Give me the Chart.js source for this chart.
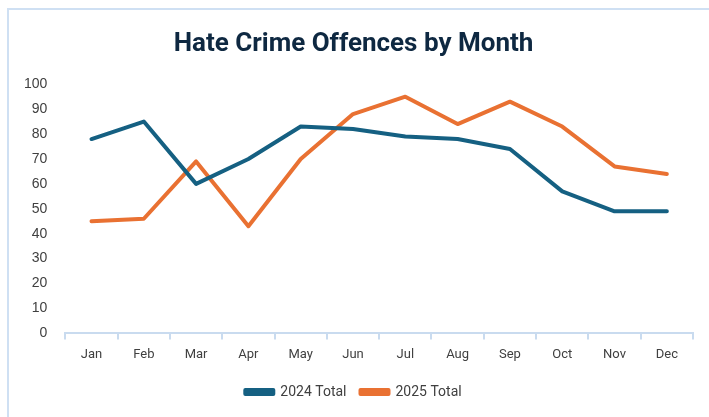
<!DOCTYPE html>
<html>
<head>
<meta charset="utf-8">
<script src="https://cdn.jsdelivr.net/npm/chart.js@4"></script>
<style>
  html, body { margin: 0; padding: 0; background: #fff; }
  #frame { position: absolute; left: 7px; top: 8px; width: 720px; height: 430px;
           border-left: 2px solid #cfe0f3; border-top: 2px solid #cfe0f3; box-sizing: border-box; }
  #wrap { position: absolute; left: 0; top: 0; width: 709px; height: 417px; }
</style>
</head>
<body>
<div id="frame"></div>
<div id="wrap"><canvas id="lineChart" width="709" height="417"></canvas></div>
<script>
const months = ['Jan', 'Feb', 'Mar', 'Apr', 'May', 'Jun', 'Jul', 'Aug', 'Sep', 'Oct', 'Nov', 'Dec']
const total2024 = [78, 85, 60, 70, 83, 82, 79, 78, 74, 57, 49, 49]
const total2025 = [45, 46, 69, 43, 70, 88, 95, 84, 93, 83, 67, 64]
const yTicks = [0, 10, 20, 30, 40, 50, 60, 70, 80, 90, 100]

const blue = '#156082'
const orange = '#E97132'
const axisColor = '#c9dbef'
const narrow = 'Roboto, "Liberation Sans", sans-serif'

const lineChart = new Chart(document.getElementById('lineChart'), {
  type: 'line',
  data: {
    labels: months,
    datasets: [
      { label: '2024 Total', data: total2024, borderColor: blue, backgroundColor: blue,
        borderWidth: 4, pointRadius: 0, tension: 0, borderJoinStyle: 'round', borderCapStyle: 'round' },
      { label: '2025 Total', data: total2025, borderColor: orange, backgroundColor: orange,
        borderWidth: 4, pointRadius: 0, tension: 0, borderJoinStyle: 'round', borderCapStyle: 'round' }
    ]
  },
  options: {
    responsive: false,
    animation: false,
    layout: { padding: { left: 14, right: 16, top: 8, bottom: 8 } },
    plugins: {
      title: {
        display: true,
        text: 'Hate Crime Offences by Month',
        color: '#0E2841',
        font: { family: narrow, size: 26, weight: 'bold' },
        padding: { top: 21, bottom: 24 }
      },
      legend: {
        position: 'bottom',
        labels: {
          boxWidth: 28, boxHeight: 4, padding: 14,
          color: '#404040',
          font: { family: narrow, size: 14 }
        }
      },
      tooltip: { enabled: false }
    },
    scales: {
      x: {
        offset: true,
        grid: { offset: true, drawOnChartArea: false, drawTicks: true, tickLength: 6, color: axisColor, lineWidth: 2 },
        border: { display: true, color: axisColor, width: 2 },
        ticks: { color: '#404040', padding: 8, font: { family: narrow, size: 13 } }
      },
      y: {
        min: 0, max: 100,
        afterBuildTicks: axis => { axis.ticks = yTicks.map(v => ({ value: v })) },
        grid: { display: false },
        border: { display: false },
        ticks: { color: '#404040', padding: 10, font: { family: 'Liberation Sans', size: 14 } }
      }
    }
  }
})
</script>
</body>
</html>
